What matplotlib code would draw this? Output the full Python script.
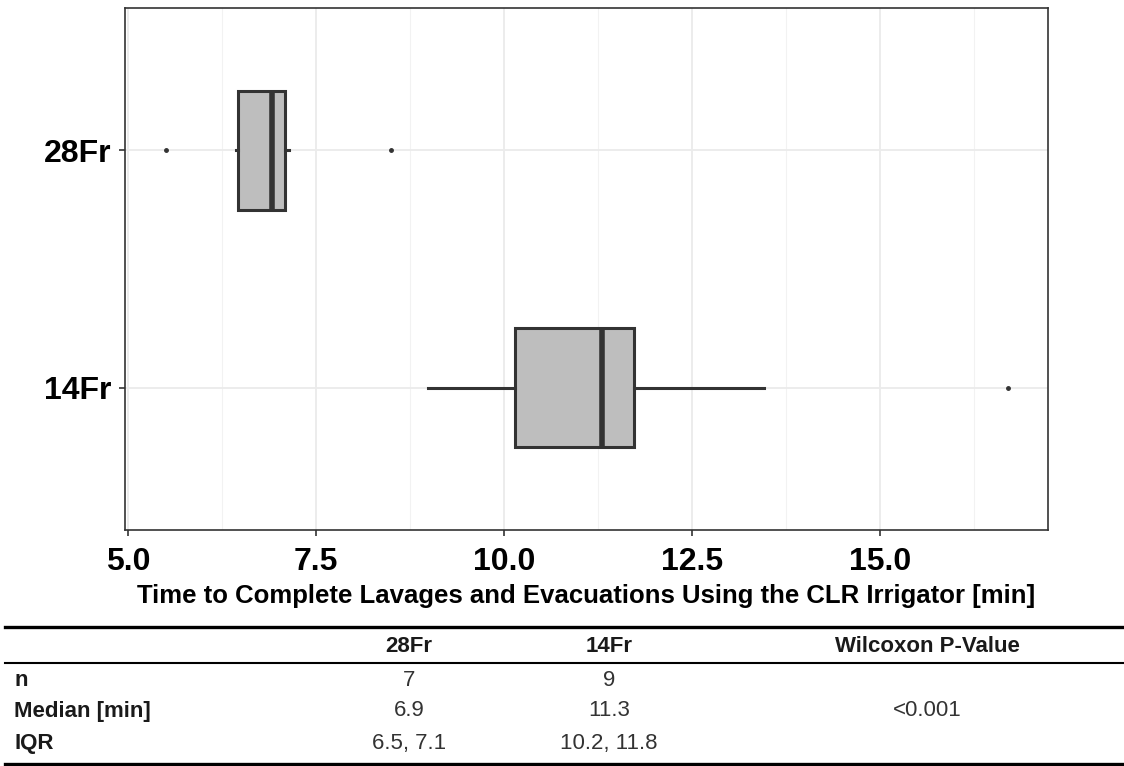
import matplotlib
matplotlib.use("Agg")
import matplotlib.pyplot as plt
from matplotlib.lines import Line2D

plt.rcParams['font.family'] = ['Liberation Sans', 'DejaVu Sans']

# box statistics (minutes)
groups = ["14Fr", "28Fr"]
medians = [11.3, 6.91]
q1s = [10.15, 6.46]
q3s = [11.73, 7.09]
whis_lo = [8.99, 6.44]
whis_hi = [13.46, 7.14]
outliers = [[16.7], [5.5, 8.5]]

# summary table below the plot
table_cols = ["28Fr", "14Fr", "Wilcoxon P-Value"]
table_rows = ["n", "Median [min]", "IQR"]
table_vals = [["7", "9", ""],
              ["6.9", "11.3", "<0.001"],
              ["6.5, 7.1", "10.2, 11.8", ""]]

W, H = 1124, 766
fig = plt.figure(figsize=(W / 100, H / 100), dpi=100)
ax = fig.add_axes([125 / W, 1 - 530 / H, 923 / W, 522 / H])

stats = []
for i, g in enumerate(groups):
    stats.append(dict(med=medians[i], q1=q1s[i], q3=q3s[i],
                      whislo=whis_lo[i], whishi=whis_hi[i],
                      fliers=outliers[i], label=g))

edge = "#333333"
ax.bxp(stats, positions=[1, 2], widths=0.5, vert=False, patch_artist=True,
       showcaps=False,
       boxprops=dict(facecolor="#bebebe", edgecolor=edge, linewidth=2.2),
       medianprops=dict(color=edge, linewidth=4.0),
       whiskerprops=dict(color=edge, linewidth=2.2),
       flierprops=dict(marker="o", markersize=2.5, markerfacecolor=edge,
                       markeredgecolor=edge))

ax.set_xlim(4.96, 17.23)
ax.set_ylim(0.4, 2.6)
ax.set_xticks([5.0, 7.5, 10.0, 12.5, 15.0])
ax.set_xticklabels(["5.0", "7.5", "10.0", "12.5", "15.0"])
ax.set_xticks([6.25, 8.75, 11.25, 13.75, 16.25], minor=True)
ax.set_yticks([1, 2])
ax.set_yticklabels(groups)
ax.tick_params(axis="both", which="major", labelsize=23, color=edge,
               length=4.5, width=1.2)
ax.tick_params(axis="x", which="major", pad=8)
ax.tick_params(axis="y", which="major", pad=5)
ax.tick_params(axis="both", which="minor", length=0)
for lab in ax.get_xticklabels() + ax.get_yticklabels():
    lab.set_fontweight("bold")
    lab.set_color("black")

ax.grid(True, which="major", color="#ebebeb", linewidth=1.3)
ax.grid(True, which="minor", axis="x", color="#f2f2f2", linewidth=0.8)
ax.set_axisbelow(True)
for s in ax.spines.values():
    s.set_color(edge)
    s.set_linewidth(1.2)

# table helpers
def fy(py):
    return 1 - py / H

fig.text(586 / W, fy(596),
         "Time to Complete Lavages and Evacuations Using the CLR Irrigator [min]",
         ha="center", va="center", fontsize=18.5, fontweight="bold")

x0, x1 = 5 / W, 1.0
fig.add_artist(Line2D([x0, x1], [fy(627), fy(627)], color="black", linewidth=2.4))
fig.add_artist(Line2D([x0, x1], [fy(663), fy(663)], color="black", linewidth=1.5))
fig.add_artist(Line2D([x0, x1], [fy(764), fy(764)], color="black", linewidth=2.4))

col_x = [409 / W, 609 / W, 927 / W]
for cx, c in zip(col_x, table_cols):
    fig.text(cx, fy(646), c, ha="center", va="center", fontsize=16,
             fontweight="bold", color="#1a1a1a")
row_y = [680, 711, 743]
for ry, r, vals in zip(row_y, table_rows, table_vals):
    fig.text(14 / W, fy(ry), r, ha="left", va="center", fontsize=16,
             fontweight="bold", color="#1a1a1a")
    for cx, v in zip(col_x, vals):
        fig.text(cx, fy(ry), v, ha="center", va="center", fontsize=16,
                 color="#333333")

fig.savefig("out.png", dpi=100)
